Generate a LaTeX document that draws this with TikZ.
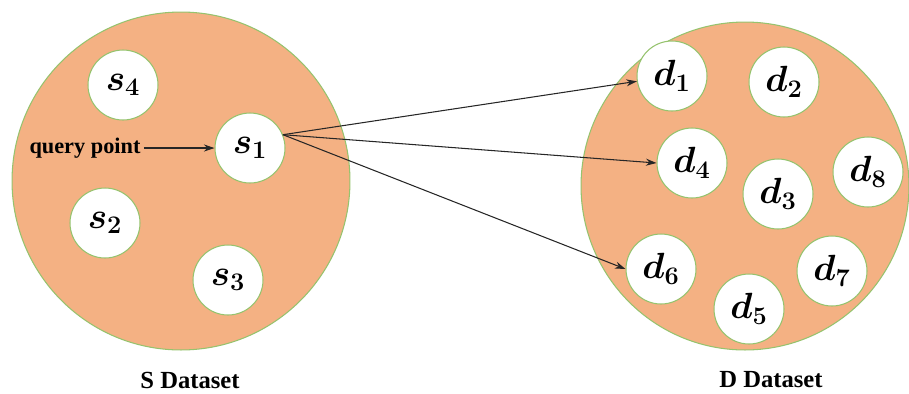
\documentclass[tikz,border=0pt]{standalone}
\usepackage{fontspec}
\setmainfont{Liberation Serif}
\usepackage{amsmath}
\usetikzlibrary{arrows.meta}
\definecolor{setfill}{RGB}{244,177,131}
\definecolor{rimgreen}{RGB}{150,195,110}
\tikzset{
  dataset/.style={circle, draw=rimgreen, line width=0.6pt, fill=setfill, inner sep=0pt},
  pt/.style={circle, draw=rimgreen, line width=0.6pt, fill=white, minimum size=1.4cm, inner sep=0pt, font=\fontsize{21}{24}\selectfont\boldmath},
  lbl/.style={font=\fontsize{14}{16}\selectfont\bfseries, inner sep=0pt},
  qlbl/.style={font=\fontsize{12.7}{15}\selectfont\bfseries, inner sep=0pt},
  link/.style={-{Stealth[length=6pt,width=4pt]}, line width=0.6pt, black!85},
}
\begin{document}
\begin{tikzpicture}[x=0.02cm,y=-0.02cm]
\useasboundingbox (0,0) rectangle (909,393);
% big sets
\node[dataset, minimum size=6.76cm] (S) at (181,181) {};
\node[dataset, minimum size=6.56cm] (D) at (745,186) {};
% S points
\node[pt] (s4) at (123,85) {$s_4$};
\node[pt] (s1) at (250,148) {$s_1$};
\node[pt] (s2) at (105,223) {$s_2$};
\node[pt] (s3) at (228,280) {$s_3$};
% D points
\node[pt] (d1) at (672,76) {$d_1$};
\node[pt] (d2) at (784,82) {$d_2$};
\node[pt] (d4) at (692,163) {$d_4$};
\node[pt] (d3) at (778,194) {$d_3$};
\node[pt] (d8) at (868,172) {$d_8$};
\node[pt] (d6) at (661,269) {$d_6$};
\node[pt] (d7) at (832,271) {$d_7$};
\node[pt] (d5) at (749,309) {$d_5$};
% labels
\node[qlbl] (q) at (85,148) {query point};
\node[lbl] (sl) at (190,380) {S Dataset};
\node[lbl] (dl) at (771,380) {D Dataset};
% connectors
\draw[link] (q.east) ++(3,0) coordinate (qs) -- (s1.west);
\coordinate (src) at (s1.22);
\draw[link] (src) -- (d1);
\draw[link] (src) -- (d4.west);
\draw[link] (src) -- (d6.west);
\end{tikzpicture}
\end{document}
